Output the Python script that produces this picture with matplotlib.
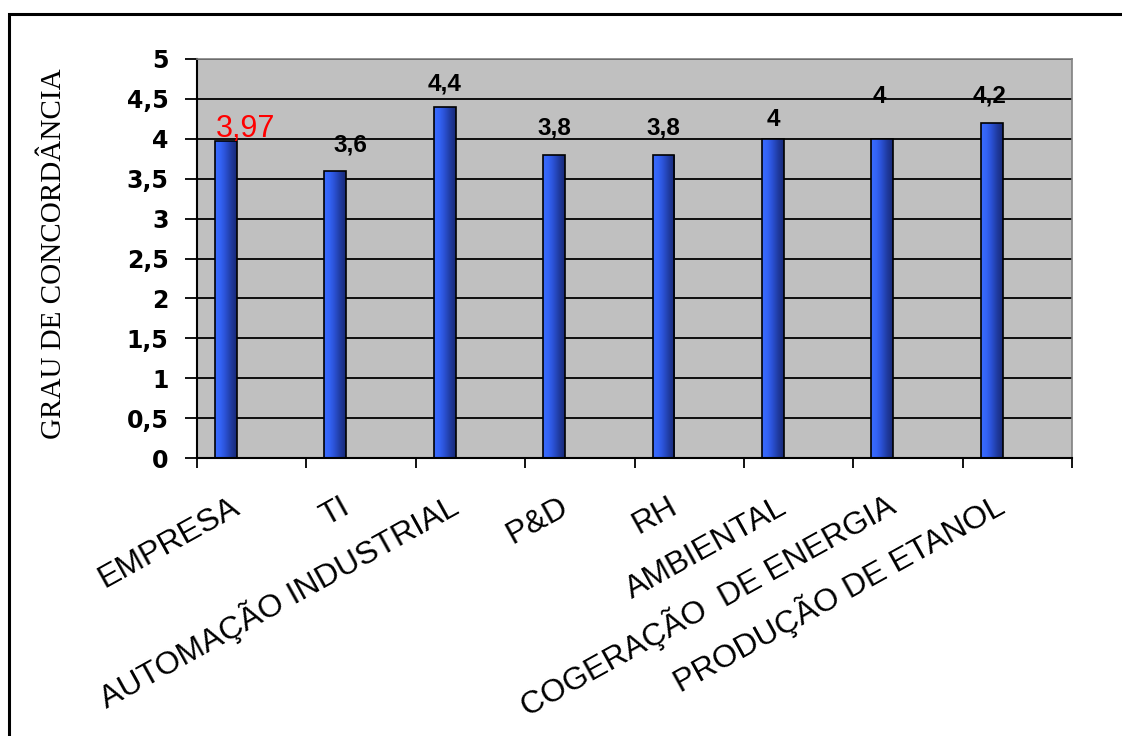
import matplotlib
matplotlib.use("Agg")
from matplotlib import pyplot as plt
from matplotlib.colors import LinearSegmentedColormap
from matplotlib.patches import Rectangle
import numpy as np

categories = ["EMPRESA", "TI", "AUTOMAÇÃO INDUSTRIAL", "P&D", "RH", "AMBIENTAL",
              "COGERAÇÃO  DE ENERGIA", "PRODUÇÃO DE ETANOL"]
values = [3.97, 3.6, 4.4, 3.8, 3.8, 4.0, 4.0, 4.2]
value_labels = ["3,97", "3,6", "4,4", "3,8", "3,8", "4", "4", "4,2"]
y_ticks = [0, 0.5, 1, 1.5, 2, 2.5, 3, 3.5, 4, 4.5, 5]
y_tick_labels = ["0", "0,5", "1", "1,5", "2", "2,5", "3", "3,5", "4", "4,5", "5"]

# label placement (pixels) relative to the top centre of each bar
label_dx = [20, 15, 0, 0, 0, 1, -3, -2]
label_dy = [4, 19, 16, 20, 20, 13, 36, 20]

PX = 0.72  # points per pixel at dpi 100

fig = plt.figure(figsize=(11.22, 7.36), dpi=100)
fig.patch.set_facecolor("white")
ax = fig.add_axes([197 / 1122, 1 - 458 / 736, (1072 - 197) / 1122, (458 - 59) / 736])
ax.set_facecolor("#c0c0c0")

# horizontal grid lines
for t in y_ticks[1:]:
    ax.axhline(t, color="black", lw=1.3, zorder=1)

cmap = LinearSegmentedColormap.from_list(
    "cyl", ["#3a6cff", "#3363f5", "#2a4fd0", "#1f3a9e", "#182a78"])
grad = np.linspace(0, 1, 64).reshape(1, -1)

bar_off = 0.265
bar_w = 0.2
bars = ax.bar(np.arange(len(values)) + bar_off, values, width=bar_w,
              color="none", edgecolor="black", lw=1.2, zorder=3)
for b in bars:
    x0, w, h = b.get_x(), b.get_width(), b.get_height()
    im = ax.imshow(grad, cmap=cmap, aspect="auto", extent=[x0, x0 + w, 0, h],
                   zorder=2, interpolation="bicubic")
    im.set_clip_path(b)

for i, (b, lab) in enumerate(zip(bars, value_labels)):
    cx = b.get_x() + b.get_width() / 2
    if i == 0:
        ax.annotate(lab, (cx, b.get_height()), xytext=(label_dx[i] * PX, label_dy[i] * PX),
                    textcoords="offset points", ha="center", va="baseline",
                    color="#ff0000", fontsize=22, family="Liberation Sans", zorder=5)
    else:
        ax.annotate(lab, (cx, b.get_height()), xytext=(label_dx[i] * PX, label_dy[i] * PX),
                    textcoords="offset points", ha="center", va="baseline",
                    color="black", fontsize=17.5, fontweight="bold",
                    family="Liberation Sans", zorder=5)

ax.set_xlim(0, len(categories))
ax.set_ylim(0, 5)
ax.set_yticks(y_ticks)
ax.set_yticklabels(y_tick_labels, fontsize=17, fontweight="bold", family="DejaVu Sans")
ax.set_xticks(range(len(categories) + 1))
ax.set_xticklabels([])
ax.tick_params(axis="y", direction="out", length=8.5, width=1.3, pad=12)
ax.tick_params(axis="x", direction="out", length=7.5, width=1.3)

for i, cat in enumerate(categories):
    ax.annotate(cat, (i + 0.5, 0), xycoords=("data", "axes fraction"),
                xytext=(-10 * PX, -54 * PX), textcoords="offset points",
                rotation=29, rotation_mode="anchor", ha="right", va="baseline",
                fontsize=23, family="Liberation Sans", annotation_clip=False)

for side in ["top", "right"]:
    ax.spines[side].set_color("#808080")
    ax.spines[side].set_linewidth(1.2)
ax.spines["left"].set_color("black")
ax.spines["left"].set_linewidth(1.5)
ax.spines["bottom"].set_color("black")
ax.spines["bottom"].set_linewidth(1.5)

fig.text(54 / 1122, 1 - 254 / 736, "GRAU DE CONCORDÂNCIA", rotation=90,
         ha="center", va="center", fontsize=21, family="Liberation Serif")

# outer frame, right and bottom sides fall off the image
fig.patches.append(Rectangle((9 / 1122, -0.1), 1.2, 1.1 - 14 / 736,
                             transform=fig.transFigure, fill=False,
                             edgecolor="black", lw=2.2))

fig.savefig("out.png", dpi=100)
